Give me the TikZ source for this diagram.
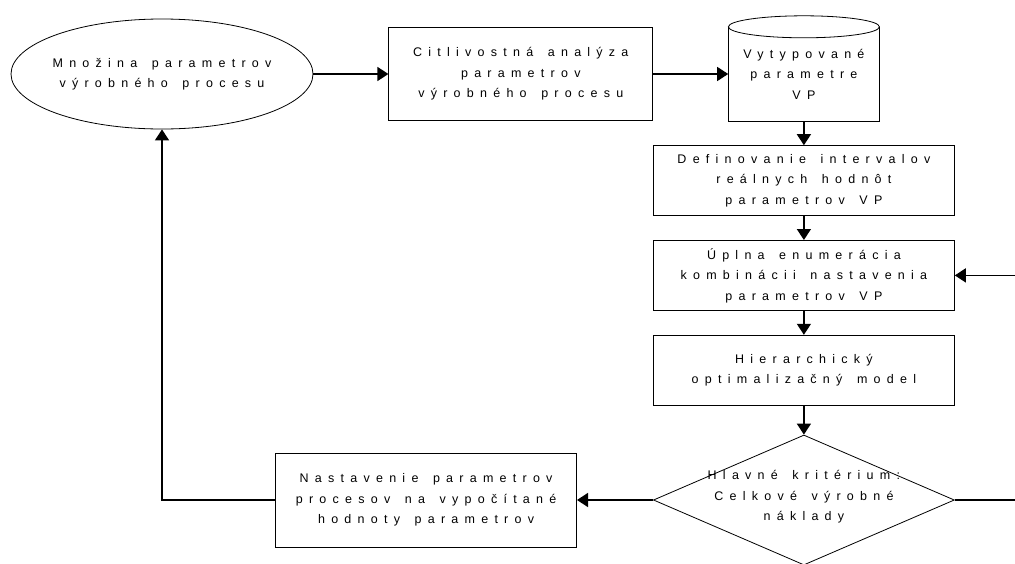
\documentclass[tikz,border=0pt]{standalone}
\usepackage{fontspec}
\setmainfont[LetterSpace=50,WordSpace=1.5]{Liberation Sans}
\usetikzlibrary{positioning,shapes.geometric,arrows.meta}

\begin{document}
\begin{tikzpicture}[-,>={Triangle[length=11pt,width=14pt]},x=1pt,y=-1pt,node distance=24pt,
  txt/.style={align=center,font=\fontsize{12.5}{20.5}\selectfont},
  main node/.style={txt,rectangle,draw,line width=0.8pt,minimum width=301pt,minimum height=70pt,inner sep=0pt},
  link/.style={line width=1.4pt}]

            \useasboundingbox (0,0) rectangle (1015,563);

            \node[ellipse,draw,line width=0.8pt,minimum width=302pt,minimum height=110pt,inner sep=0pt] (1) at (162,74){};
            \node[txt] (1t) at (1.center){Množina parametrov\\výrobného procesu};
            \node[main node,minimum width=264pt,minimum height=93pt] (2) [right=75pt of 1]
                {Citlivostná analýza\\parametrov\\výrobného procesu};
            \node[txt,minimum width=151pt,minimum height=94pt,inner sep=0pt] (3) [right=75pt of 2]
                {Vytypované\\parametre\\VP};
            \node[main node] (4) [below=of 3]{Definovanie intervalov\\reálnych hodnôt\\parametrov VP};
            \node[main node] (5) [below=of 4]{Úplna enumerácia\\kombinácii nastavenia\\parametrov VP};
            \node[main node] (6) [below=of 5]{Hierarchický\\optimalizačný model};
            \node[diamond,draw,line width=0.8pt,minimum width=301pt,minimum height=130pt,inner sep=0pt] (7) [below=29pt of 6]{};
            \node[txt] (7t) at ([yshift=3pt]7.center){Hlavné kritérium:\\Celkové výrobné\\náklady};
            \node[main node,minimum height=94pt] (8) [left=76pt of 7]{Nastavenie parametrov\\procesov na vypočítané\\hodnoty parametrov};

            \coordinate[right=62pt of 5] (e5);
            \coordinate[right=62pt of 7] (e7);

            % valec
            \draw[line width=0.8pt] (3.north west) -- (3.south west) -- (3.south east) -- (3.north east);
            \draw[line width=0.8pt] (3.north) ellipse [x radius=75.5pt, y radius=11pt];

            \draw[link,->] (1) to (2);
            \draw[link,->] (2) to (3);
            \draw[link,->] (3) to (4);
            \draw[link,->] (4) to (5);
            \draw[link,->] (5) to (6);
            \draw[link,->] (6) to (7);
            \draw[link,->] (7) to (8);
            \draw[link,->] (e5) to (5);
            \draw[link] (7) to (e7);
            \draw[link,->] (8) -| (1);

            ;
        \end{tikzpicture}
\end{document}
